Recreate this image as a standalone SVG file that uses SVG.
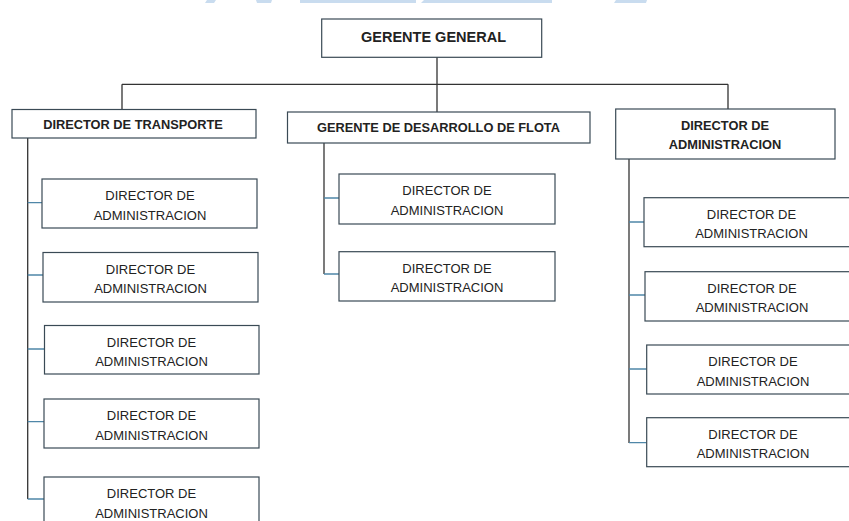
<svg xmlns="http://www.w3.org/2000/svg" width="849" height="521" viewBox="0 0 849 521">
<style>
.box{fill:#fff;stroke:#3a4a55;stroke-width:1.2}
.t{font-family:"Liberation Sans",Arial,sans-serif;font-size:13px;fill:#222;text-anchor:middle}
.b{font-weight:bold;font-size:12.8px}
.main{stroke:#333;stroke-width:1.3;fill:none}
.stub{stroke:#4f87a8;stroke-width:1.3;fill:none}
.wm{fill:#c9dcef}
</style>
<rect width="849" height="521" fill="#fff"/>
<g id="watermark">
<polygon class="wm" points="207,0 216,0 214,3 205,3"/>
<polygon class="wm" points="256,0 272,0 271,3 257,3"/>
<rect class="wm" x="300" y="0" width="116" height="3"/>
<polygon class="wm" points="424,0 552,0 552,3 421,3"/>
<polygon class="wm" points="616,0 647,0 646,3 614,3"/>
</g>
<g id="connectors">
<path class="main" d="M437,57 V112 M122,84.3 H728 M122,84.3 V110 M728,84.3 V109"/>
<path class="main" d="M27.7,138 V499"/>
<path class="stub" d="M27.7,202.7 H42 M27.7,275 H43 M27.7,349 H44.5 M27.7,421.7 H44 M27.7,499 H44"/>
<path class="main" d="M324,143 V274"/>
<path class="stub" d="M324,198 H339 M324,274 H339"/>
<path class="main" d="M629,159 V443"/>
<path class="stub" d="M629,222 H644 M629,295 H645 M629,369 H646.7 M629,442.7 H646.7"/>
</g>
<g id="gerente-general">
<rect class="box" x="321.7" y="19" width="220" height="38.3"/>
<text class="t b" x="433.5" y="41.5" style="font-size:14.5px">GERENTE GENERAL</text>
</g>
<g id="director-transporte">
<rect class="box" x="12" y="109.5" width="244" height="28.5"/>
<text class="t b" x="133" y="128.5">DIRECTOR DE TRANSPORTE</text>
</g>
<g id="gerente-desarrollo-flota">
<rect class="box" x="287.5" y="112" width="302.5" height="31"/>
<text class="t b" x="438.5" y="132">GERENTE DE DESARROLLO DE FLOTA</text>
</g>
<g id="director-administracion">
<rect class="box" x="615.7" y="109" width="219.3" height="50"/>
<text class="t b" x="725" y="130">DIRECTOR DE</text>
<text class="t b" x="725" y="149">ADMINISTRACION</text>
</g>
<g id="l1"><rect class="box" x="42" y="179" width="215" height="49"/><text class="t" x="150" y="200">DIRECTOR DE</text><text class="t" x="150" y="219.5">ADMINISTRACION</text></g>
<g id="l2"><rect class="box" x="43" y="252.5" width="215" height="49.5"/><text class="t" x="150.5" y="273.5">DIRECTOR DE</text><text class="t" x="150.5" y="293">ADMINISTRACION</text></g>
<g id="l3"><rect class="box" x="44.5" y="325.5" width="214.5" height="48.5"/><text class="t" x="151.5" y="346.5">DIRECTOR DE</text><text class="t" x="151.5" y="366">ADMINISTRACION</text></g>
<g id="l4"><rect class="box" x="44" y="399" width="215" height="49"/><text class="t" x="151.5" y="420">DIRECTOR DE</text><text class="t" x="151.5" y="439.5">ADMINISTRACION</text></g>
<g id="l5"><rect class="box" x="44" y="477" width="215" height="60"/><text class="t" x="151.5" y="498">DIRECTOR DE</text><text class="t" x="151.5" y="517.5">ADMINISTRACION</text></g>
<g id="m1"><rect class="box" x="339" y="174" width="216" height="50"/><text class="t" x="447" y="195">DIRECTOR DE</text><text class="t" x="447" y="214.5">ADMINISTRACION</text></g>
<g id="m2"><rect class="box" x="339" y="251.7" width="216" height="49.3"/><text class="t" x="447" y="272.7">DIRECTOR DE</text><text class="t" x="447" y="292.2">ADMINISTRACION</text></g>
<g id="r1"><rect class="box" x="644" y="197.7" width="216" height="49"/><text class="t" x="751.5" y="218.7">DIRECTOR DE</text><text class="t" x="751.5" y="238.2">ADMINISTRACION</text></g>
<g id="r2"><rect class="box" x="645" y="271.7" width="216" height="49.3"/><text class="t" x="752" y="292.7">DIRECTOR DE</text><text class="t" x="752" y="312.2">ADMINISTRACION</text></g>
<g id="r3"><rect class="box" x="646.7" y="345" width="216" height="49"/><text class="t" x="753" y="366">DIRECTOR DE</text><text class="t" x="753" y="385.5">ADMINISTRACION</text></g>
<g id="r4"><rect class="box" x="646.7" y="417.7" width="216" height="49"/><text class="t" x="753" y="438.7">DIRECTOR DE</text><text class="t" x="753" y="458.2">ADMINISTRACION</text></g>
</svg>
